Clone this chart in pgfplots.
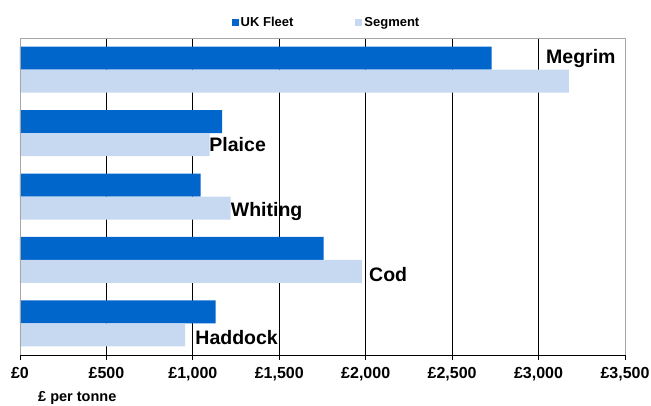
\documentclass[border=0pt]{standalone}
\usepackage{fontspec}
\setmainfont{Liberation Sans}
\usepackage{pgfplots}
\pgfplotsset{compat=1.18}
\definecolor{ukblue}{HTML}{0066CC}
\definecolor{seglight}{HTML}{C6D9F1}
\begin{document}
\begin{tikzpicture}
\begin{axis}[
  at={(0,0)}, anchor=south west,
  scale only axis, width=605pt, height=317pt,
  xbar, bar width=23pt,
  xmin=0, xmax=3500, ymin=-0.5, ymax=4.5,
  xtick={0,500,1000,1500,2000,2500,3000,3500},
  xticklabels={£0,£500,£1{,}000,£1{,}500,£2{,}000,£2{,}500,£3{,}000,£3{,}500},
  xtick pos=bottom, tick align=center, major tick length=9pt,
  xtick style={black, line width=0.8pt},
  ytick=\empty,
  xticklabel style={font=\fontsize{16}{18}\selectfont\bfseries, yshift=-4pt},
  xmajorgrids, grid style={black, line width=0.8pt},
  axis line style={draw=none},
  clip=false,
  legend style={at={(0.5,1)}, anchor=south, yshift=6pt, xshift=4pt, draw=none, fill=none,
    legend columns=2, font=\fontsize{13}{15}\selectfont\bfseries,
    /tikz/every even column/.append style={column sep=60pt}},
  legend image code/.code={\fill[#1] (0pt,-3.5pt) rectangle (7pt,3.5pt);},
  legend cell align=left,
]
\addplot[fill=ukblue, draw=none, bar shift=11.5pt] coordinates {(1132,0) (1757,1) (1045,2) (1169,3) (2729,4)};
\addplot[fill=seglight, draw=none, bar shift=-11.5pt] coordinates {(955,0) (1978,1) (1219,2) (1097,3) (3176,4)};
\legend{UK Fleet, Segment}
\draw[gray!70, line width=0.8pt] (rel axis cs:0,0) -- (rel axis cs:0,1) -- (rel axis cs:1,1) -- (rel axis cs:1,0);
\draw[black, line width=0.8pt] (rel axis cs:0,0) -- (rel axis cs:1,0);
\begin{scope}[every node/.style={anchor=base west, inner sep=0pt, font=\fontsize{19.5}{22}\selectfont\bfseries}]
\node at (axis cs:3043,4.101) {Megrim};
\node at (axis cs:1095,2.707) {Plaice};
\node at (axis cs:1219,1.681) {Whiting};
\node at (axis cs:2019,0.656) {Cod};
\node at (axis cs:1014,-0.331) {Haddock};
\end{scope}
\node[anchor=base west, inner sep=0pt, font=\fontsize{14.5}{16}\selectfont\bfseries] at ([xshift=18pt,yshift=-46pt]rel axis cs:0,0) {£ per tonne};
\end{axis}
\pgfresetboundingbox
\path (-20pt,-50pt) rectangle (631pt,355pt);
\end{tikzpicture}
\end{document}
